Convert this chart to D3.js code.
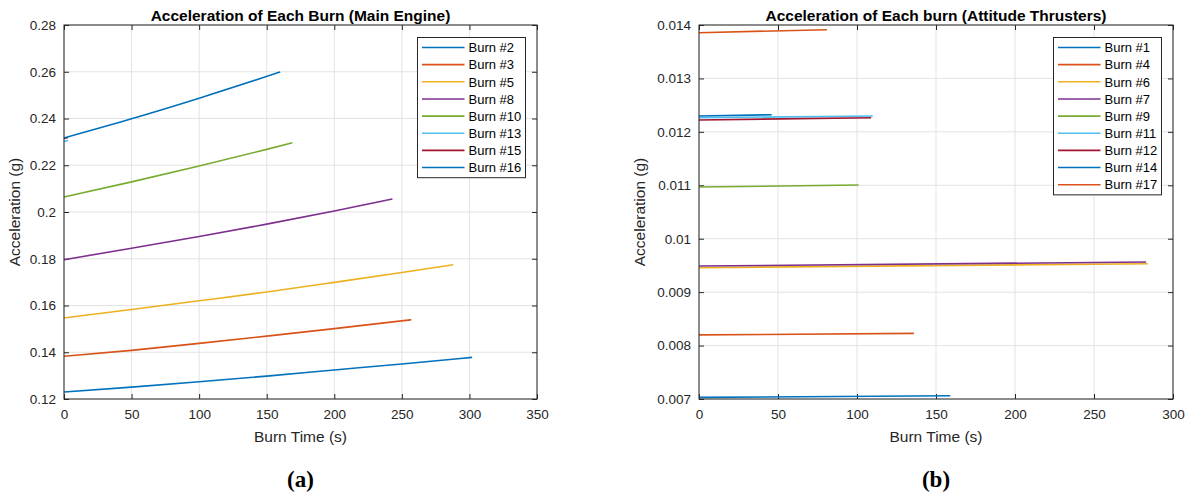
<!DOCTYPE html>
<html>
<head>
<meta charset="utf-8">
<script src="https://cdn.jsdelivr.net/npm/d3@7"></script>
<style>
  body { margin: 0; background: #fff; }
  svg { display: block; font-family: "Liberation Sans", Arial, sans-serif; }
</style>
</head>
<body>
<svg id="chart" width="1190" height="496"></svg>
<script>
// ---- Panel (a): main engine burns ----
const mainNames = ["Burn #2", "Burn #3", "Burn #5", "Burn #8", "Burn #10", "Burn #13", "Burn #15", "Burn #16"];
const mainTimes = [
  [0, 50, 100, 150, 200, 250, 302],
  [0, 50, 100, 150, 200, 257],
  [0, 50, 100, 150, 200, 250, 288],
  [0, 50, 100, 150, 200, 243],
  [0, 50, 100, 150, 169],
  [0, 3],
  [0, 3],
  [0, 50, 100, 160]
];
const mainAccel = [
  [0.1230, 0.1251, 0.1274, 0.1298, 0.1324, 0.1350, 0.1378],
  [0.1383, 0.1408, 0.1438, 0.1469, 0.1501, 0.1539],
  [0.1547, 0.1583, 0.1620, 0.1658, 0.1699, 0.1741, 0.1774],
  [0.1796, 0.1845, 0.1895, 0.1948, 0.2004, 0.2056],
  [0.2064, 0.2129, 0.2197, 0.2268, 0.2296],
  [0.2302, 0.2306],
  [0.2314, 0.2319],
  [0.2317, 0.2399, 0.2487, 0.2599]
];
const mainXTicks = [0, 50, 100, 150, 200, 250, 300, 350];
const mainYTicks = [0.12, 0.14, 0.16, 0.18, 0.2, 0.22, 0.24, 0.26, 0.28];

// ---- Panel (b): attitude thruster burns ----
const attNames = ["Burn #1", "Burn #4", "Burn #6", "Burn #7", "Burn #9", "Burn #11", "Burn #12", "Burn #14", "Burn #17"];
const attTimes = [
  [0, 159],
  [0, 136],
  [0, 284],
  [0, 283],
  [0, 101],
  [0, 110],
  [0, 109],
  [0, 46],
  [0, 81]
];
const attAccel = [
  [0.007030, 0.007060],
  [0.008200, 0.008228],
  [0.009457, 0.009532],
  [0.009489, 0.009564],
  [0.010968, 0.011005],
  [0.012265, 0.012297],
  [0.012222, 0.012265],
  [0.012297, 0.012321],
  [0.013856, 0.013912]
];
const attXTicks = [0, 50, 100, 150, 200, 250, 300];
const attYTicks = [0.007, 0.008, 0.009, 0.01, 0.011, 0.012, 0.013, 0.014];

const matlabColors = ["#0072BD", "#D95319", "#EDB120", "#7E2F8E", "#77AC30", "#4DBEEE", "#A2142F"];
const axisColor = "#262626";
const gridColor = "#e3e3e3";

const svg = d3.select("#chart");

function drawPanel(cfg) {
  const g = svg.append("g");
  const x = d3.scaleLinear().domain(cfg.xDomain).range([cfg.left, cfg.right]);
  const y = d3.scaleLinear().domain(cfg.yDomain).range([cfg.bottom, cfg.top]);

  // grid
  g.selectAll(".gx").data(cfg.xTicks).enter().append("line")
    .attr("x1", d => x(d)).attr("x2", d => x(d))
    .attr("y1", cfg.top).attr("y2", cfg.bottom)
    .attr("stroke", gridColor).attr("stroke-width", 1);
  g.selectAll(".gy").data(cfg.yTicks).enter().append("line")
    .attr("x1", cfg.left).attr("x2", cfg.right)
    .attr("y1", d => y(d)).attr("y2", d => y(d))
    .attr("stroke", gridColor).attr("stroke-width", 1);

  // axes (ticks inward, box on)
  const styleAxis = sel => {
    sel.select(".domain").remove();
    sel.selectAll(".tick line").attr("stroke", axisColor);
    sel.selectAll(".tick text").attr("fill", axisColor).style("font-size", "13.5px")
      .style("font-family", "Liberation Sans, Arial, sans-serif");
  };
  g.append("g").attr("transform", `translate(0,${cfg.bottom})`)
    .call(d3.axisBottom(x).tickValues(cfg.xTicks).tickFormat(d3.format("")).tickSizeInner(-5).tickSizeOuter(0).tickPadding(10))
    .call(styleAxis);
  g.append("g").attr("transform", `translate(0,${cfg.top})`)
    .call(d3.axisTop(x).tickValues(cfg.xTicks).tickFormat("").tickSizeInner(-5).tickSizeOuter(0))
    .call(styleAxis);
  g.append("g").attr("transform", `translate(${cfg.left},0)`)
    .call(d3.axisLeft(y).tickValues(cfg.yTicks).tickFormat(d => String(+d.toFixed(4))).tickSizeInner(-5).tickSizeOuter(0).tickPadding(8))
    .call(styleAxis);
  g.append("g").attr("transform", `translate(${cfg.right},0)`)
    .call(d3.axisRight(y).tickValues(cfg.yTicks).tickFormat("").tickSizeInner(-5).tickSizeOuter(0))
    .call(styleAxis);

  // series
  const line = d3.line().x(d => x(d[0])).y(d => y(d[1])).curve(d3.curveMonotoneX);
  cfg.names.forEach((name, i) => {
    const pts = cfg.times[i].map((t, j) => [t, cfg.accel[i][j]]);
    g.append("path").datum(pts)
      .attr("fill", "none")
      .attr("stroke", matlabColors[i % matlabColors.length])
      .attr("stroke-width", 1.6)
      .attr("d", line);
  });

  g.append("rect")
    .attr("x", cfg.left).attr("y", cfg.top)
    .attr("width", cfg.right - cfg.left).attr("height", cfg.bottom - cfg.top)
    .attr("fill", "none").attr("stroke", axisColor).attr("stroke-width", 1);

  // legend
  const lg = g.append("g");
  const rowH = 17.15;
  lg.append("rect")
    .attr("x", cfg.legX).attr("y", 37.5)
    .attr("width", cfg.legW).attr("height", rowH * cfg.names.length + 3)
    .attr("fill", "#fff").attr("stroke", axisColor).attr("stroke-width", 1);
  cfg.names.forEach((name, i) => {
    const yy = 47.5 + i * rowH;
    lg.append("line")
      .attr("x1", cfg.legX + 4.5).attr("x2", cfg.legX + 47)
      .attr("y1", yy).attr("y2", yy)
      .attr("stroke", matlabColors[i % matlabColors.length]).attr("stroke-width", 1.6);
    lg.append("text")
      .attr("x", cfg.legX + 51).attr("y", yy + 4.7)
      .attr("fill", "#000").style("font-size", "13px")
      .text(name);
  });

  // titles
  const cx = (cfg.left + cfg.right) / 2;
  g.append("text").attr("x", cx).attr("y", 20.5)
    .attr("text-anchor", "middle").attr("font-weight", "bold")
    .style("font-size", "15.5px").attr("fill", "#000")
    .text(cfg.title);
  g.append("text").attr("x", cx).attr("y", 442)
    .attr("text-anchor", "middle").style("font-size", "15.5px").attr("fill", axisColor)
    .text("Burn Time (s)");
  g.append("text")
    .attr("transform", `translate(${cfg.ylabX},${(cfg.top + cfg.bottom) / 2}) rotate(-90)`)
    .attr("text-anchor", "middle").style("font-size", "15.5px").attr("fill", axisColor)
    .text("Acceleration (g)");
  g.append("text").attr("x", cx).attr("y", 487)
    .attr("text-anchor", "middle").attr("font-weight", "bold")
    .style("font-family", "Liberation Serif, DejaVu Serif, serif").style("font-size", "23px")
    .attr("fill", "#000")
    .text(cfg.caption);
}

drawPanel({
  names: mainNames, times: mainTimes, accel: mainAccel,
  xTicks: mainXTicks, yTicks: mainYTicks,
  xDomain: [0, 350], yDomain: [0.12, 0.28],
  left: 64, right: 537, top: 25, bottom: 399,
  legX: 417.5, legW: 108, ylabX: 20,
  title: "Acceleration of Each Burn (Main Engine)", caption: "(a)"
});

drawPanel({
  names: attNames, times: attTimes, accel: attAccel,
  xTicks: attXTicks, yTicks: attYTicks,
  xDomain: [0, 300], yDomain: [0.007, 0.014],
  left: 699, right: 1173, top: 25, bottom: 399,
  legX: 1053.5, legW: 108, ylabX: 645,
  title: "Acceleration of Each burn (Attitude Thrusters)", caption: "(b)"
});
</script>
</body>
</html>
